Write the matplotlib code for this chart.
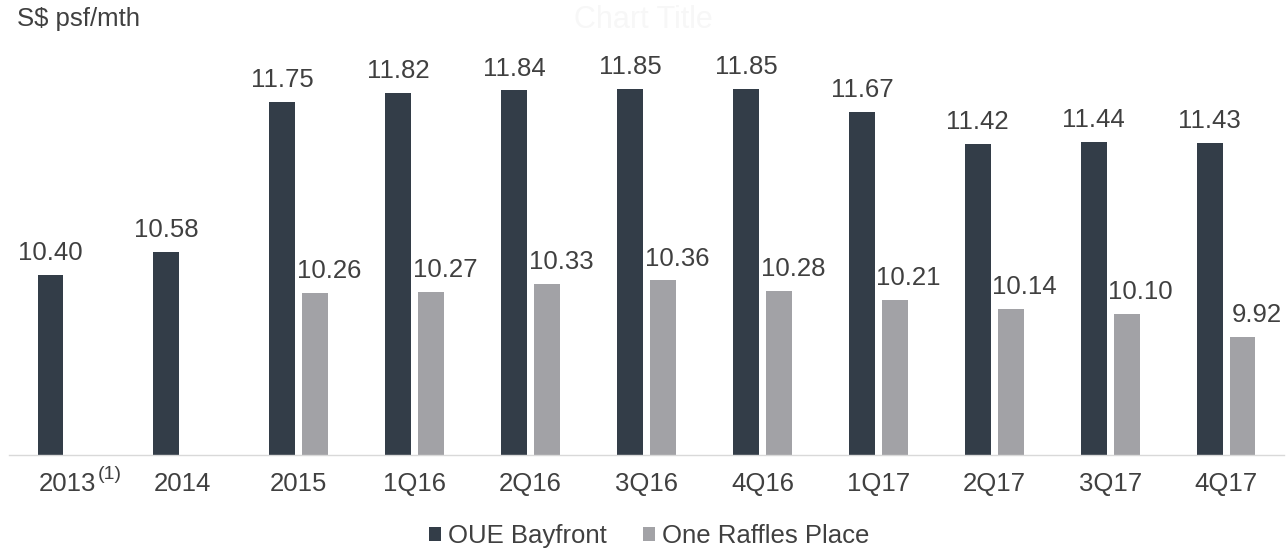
import matplotlib
matplotlib.use("Agg")
import matplotlib.pyplot as plt
import matplotlib.transforms as mtransforms
import numpy as np

plt.rcParams['font.family'] = ['Liberation Sans', 'DejaVu Sans']

# данные
periods = ["2013", "2014", "2015", "1Q16", "2Q16", "3Q16", "4Q16",
           "1Q17", "2Q17", "3Q17", "4Q17"]
oue_bayfront = [10.40, 10.58, 11.75, 11.82, 11.84, 11.85, 11.85,
                11.67, 11.42, 11.44, 11.43]
one_raffles = [np.nan, np.nan, 10.26, 10.27, 10.33, 10.36, 10.28,
               10.21, 10.14, 10.10, 9.92]

dark = "#333d48"
grey = "#a2a2a6"
txt = "#404040"
fs = 18.5

fig = plt.figure(figsize=(12.86, 5.49), dpi=100)
ax = fig.add_axes([9 / 1286, 94 / 549, 1275 / 1286, 411 / 549])

x = np.arange(len(periods))
w = 0.224
off = 0.142
bars1 = ax.bar(x - off, oue_bayfront, w, color=dark, label="OUE Bayfront")
bars2 = ax.bar(x + off, one_raffles, w, color=grey, label="One Raffles Place")

# подписи значений (у серых столбцов сдвинуты вправо, как в оригинале)
for b, v in zip(bars1, oue_bayfront):
    ax.annotate("{:.2f}".format(v), (b.get_x() + b.get_width() / 2, v),
                xytext=(0, 7), textcoords="offset points",
                ha="center", va="bottom", fontsize=fs, color=txt)
for b, v in zip(bars2, one_raffles):
    if np.isnan(v):
        continue
    ax.annotate("{:.2f}".format(v), (b.get_x() + b.get_width() / 2, v),
                xytext=(10, 7), textcoords="offset points",
                ha="center", va="bottom", fontsize=fs, color=txt)

ax.set_xlim(-0.5, len(periods) - 0.5)
ax.set_ylim(9.0, 12.2)
ax.set_xticks(x)
ax.set_xticklabels(periods, fontsize=fs, color=txt)
ax.tick_params(axis="x", length=0, pad=12)
ax.set_yticks([])
for s in ["top", "right", "left"]:
    ax.spines[s].set_visible(False)
ax.spines["bottom"].set_color("#d9d9d9")
ax.spines["bottom"].set_linewidth(1)

# сноска (1) у 2013
trans = mtransforms.blended_transform_factory(ax.transData, ax.transAxes)
ax.annotate("(1)", xy=(0, 0), xycoords=trans, xytext=(22, -8),
            textcoords="offset points", ha="left", va="top",
            fontsize=14, color=txt)

fig.text(17 / 1286, 1 - 19 / 549, "S$ psf/mth", fontsize=fs, color=txt,
         ha="left", va="center")
fig.text(0.5, 1 - 20 / 549, "Chart Title", fontsize=22, color="#f7f7f7",
         ha="center", va="center")

fig.legend(loc="center", bbox_to_anchor=(0.505, 1 - 536 / 549), ncol=2,
           frameon=False, fontsize=fs, labelcolor=txt, handlelength=0.45,
           handleheight=0.45, handletextpad=0.3, columnspacing=1.4)

fig.savefig("out.png", dpi=100)
